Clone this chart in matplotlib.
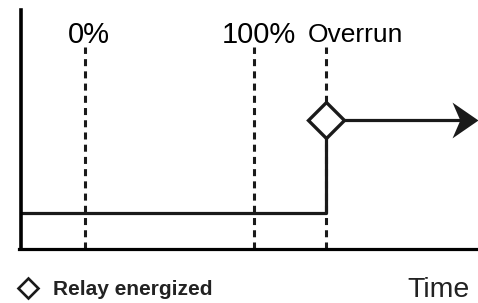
import matplotlib.pyplot as plt
from matplotlib.lines import Line2D
from matplotlib.path import Path

plt.rcParams['font.family'] = ['Liberation Sans', 'DejaVu Sans']

# time axis: 0% -> 0, 100% -> 1
mark_t = [0.0, 1.0, 1.426]
mark_labels = ['0%', '100%', 'Overrun']
mark_top = 0.845

# relay output: low until overrun, then energized
step_t = [-0.379, 1.426, 1.426]
step_level = [0.151, 0.151, 0.54]
arrow_end_t = 2.323

t_min, t_max = -0.379, 2.325
ink = '#1a1a1a'

fig = plt.figure(figsize=(4.78, 3.03), dpi=100)
ax = fig.add_axes([21 / 478, 54 / 303, 457 / 478, 239 / 303])
ax.set_xlim(t_min, t_max)
ax.set_ylim(0, 1)
for side in ['top', 'right']:
    ax.spines[side].set_visible(False)
ax.spines['left'].set_linewidth(2.6)
ax.spines['bottom'].set_linewidth(2.3)
ax.spines['bottom'].set_bounds(t_min - 0.012, t_max)
ax.set_xticks([])
ax.set_yticks([])

# dashed time markers
for t in mark_t:
    ax.plot([t, t], [0, mark_top], color=ink, lw=2.2, dashes=(2.3, 1.7), zorder=1)

# labels above markers
ax.text(mark_t[0] + 0.02, 0.862, mark_labels[0], ha='center', va='baseline', fontsize=21)
ax.text(mark_t[1] + 0.027, 0.862, mark_labels[1], ha='center', va='baseline', fontsize=21)
ax.text(mark_t[2] - 0.108, 0.866, mark_labels[2], ha='left', va='baseline', fontsize=19)

# step line
ax.plot(step_t, step_level, color=ink, lw=2.3, solid_capstyle='butt', zorder=2)

# arrow after energizing: shaft + stealth head (tip at origin of the marker path)
ax.plot([step_t[-1], arrow_end_t - 0.06], [step_level[-1], step_level[-1]],
        color=ink, lw=2.3, zorder=2)
head = Path([(0, 0), (-1, 0.69), (-0.7, 0), (-1, -0.69), (0, 0)],
            [Path.MOVETO, Path.LINETO, Path.LINETO, Path.LINETO, Path.CLOSEPOLY])
ax.plot([arrow_end_t], [step_level[-1]], marker=head, markersize=37.4, color=ink,
        markeredgewidth=0, zorder=2, clip_on=False)

# relay energized marker
ax.plot([step_t[-1]], [step_level[-1]], marker='D', markersize=18.3, markerfacecolor='white',
        markeredgecolor=ink, markeredgewidth=2.4, zorder=3)

handle = Line2D([], [], marker='D', linestyle='none', markersize=10, markerfacecolor='white',
                markeredgecolor=ink, markeredgewidth=1.9)
fig.legend([handle], ['Relay energized'], loc='center left', bbox_to_anchor=(0.038, 0.043),
           frameon=False, handlelength=0.9, handletextpad=0.75, borderaxespad=0, borderpad=0,
           labelcolor='#222222', prop={'weight': 'bold', 'size': 15})

fig.text(0.983, 0.043, 'Time', ha='right', va='center', fontsize=20.5, color='#222222')

fig.savefig('out.png', dpi=100)
